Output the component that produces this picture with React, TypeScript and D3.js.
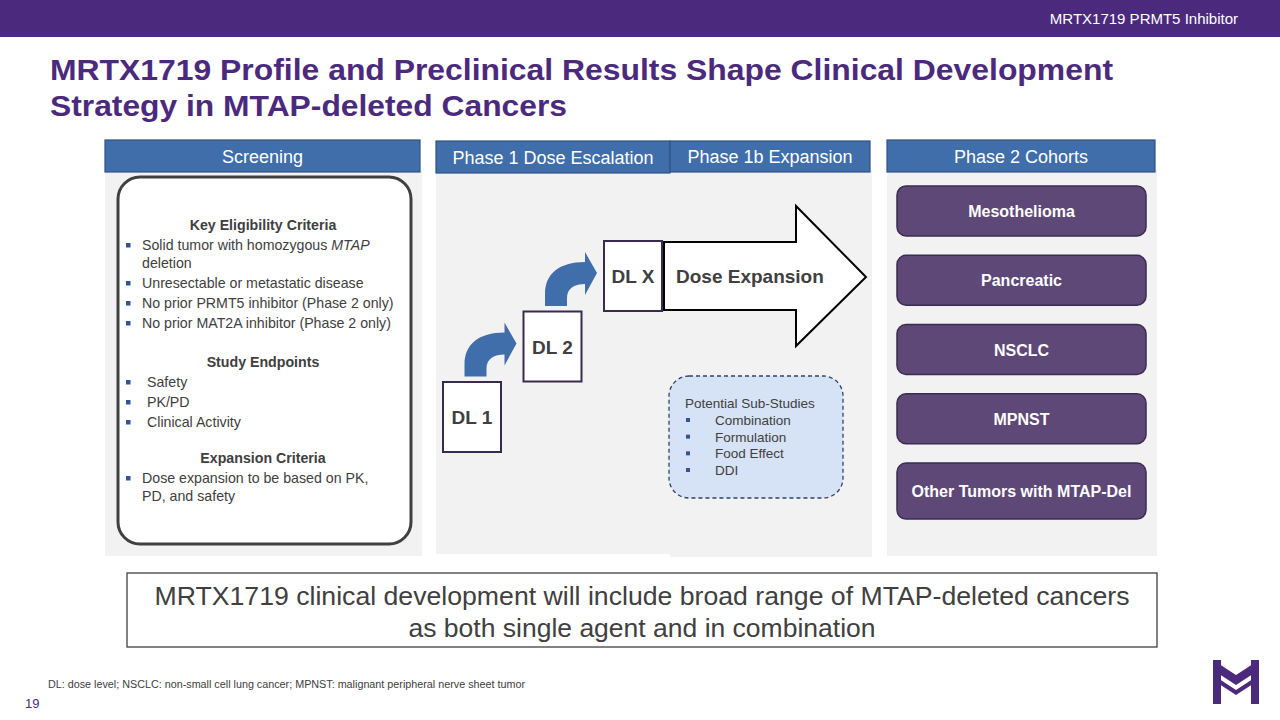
import React from "react";
import * as d3 from "d3";

const headerTag = "MRTX1719 PRMT5 Inhibitor";
const titleLines = [
  "MRTX1719 Profile and Preclinical Results Shape Clinical Development",
  "Strategy in MTAP-deleted Cancers",
];
const phases = ["Screening", "Phase 1 Dose Escalation", "Phase 1b Expansion", "Phase 2 Cohorts"];
const eligibility = [
  [["Solid tumor with homozygous ", false], ["MTAP", true]],
  [["Unresectable or metastatic disease", false]],
  [["No prior PRMT5 inhibitor (Phase 2 only)", false]],
  [["No prior MAT2A inhibitor (Phase 2 only)", false]],
];
const endpoints = ["Safety", "PK/PD", "Clinical Activity"];
const expansionCriteria = ["Dose expansion to be based on PK,", "PD, and safety"];
const doseLevels = ["DL 1", "DL 2", "DL X"];
const expansionLabel = "Dose Expansion";
const subStudiesTitle = "Potential Sub-Studies";
const subStudies = ["Combination", "Formulation", "Food Effect", "DDI"];
const cohorts = ["Mesothelioma", "Pancreatic", "NSCLC", "MPNST", "Other Tumors with MTAP-Del"];
const conclusion = [
  "MRTX1719 clinical development will include broad range of MTAP-deleted cancers",
  "as both single agent and in combination",
];
const footnote = "DL: dose level; NSCLC: non-small cell lung cancer; MPNST: malignant peripheral nerve sheet tumor";
const pageNum = "19";

const PURPLE = "#4B2A7E";
const BLUE = "#3F6EAA";
const GREY = "#F2F2F2";
const DARK = "#404040";
const FONT = "'Liberation Sans', Arial, sans-serif";

function curvedArrow(tipX: number, tipY: number) {
  const x0 = tipX - 52;
  const yb = tipY + 33;
  return `M${x0},${yb} L${x0},${yb - 12} C${x0},${yb - 32} ${x0 + 14},${yb - 44} ${x0 + 40},${yb - 44} L${x0 + 40},${yb - 54} L${x0 + 52},${yb - 33} L${x0 + 40},${yb - 11} L${x0 + 40},${yb - 22} C${x0 + 30},${yb - 22} ${x0 + 22},${yb - 18} ${x0 + 22},${yb - 8} L${x0 + 22},${yb} Z`;
}

export default function App() {
  const dlX = d3.scaleLinear().domain([0, 2]).range([443, 604]);
  const dlY = d3.scaleLinear().domain([0, 2]).range([382, 241]);
  const dlW = 58, dlH = 70;

  const cohortY = d3.scaleBand<string>().domain(cohorts).range([186, 513]).paddingInner(0.28);
  const subY = d3.scaleLinear().domain([0, subStudies.length - 1]).range([420, 470]);

  const lines: { x: number; y: number; text: any; bold?: boolean; center?: boolean; bullet?: boolean }[] = [];
  let y = 225;
  lines.push({ x: 263, y, text: "Key Eligibility Criteria", bold: true, center: true });
  eligibility.forEach((segs, i) => {
    y += 20;
    lines.push({
      x: 142, y, bullet: true,
      text: segs.map((s, j) => (
        <tspan key={j} fontStyle={s[1] ? "italic" : "normal"}>{s[0] as string}</tspan>
      )),
    });
    if (i === 0) {
      y += 18;
      lines.push({ x: 142, y, text: "deletion" });
    }
  });
  y += 39;
  lines.push({ x: 263, y, text: "Study Endpoints", bold: true, center: true });
  endpoints.forEach((e) => {
    y += 20;
    lines.push({ x: 147, y, text: e, bullet: true });
  });
  y += 36;
  lines.push({ x: 263, y, text: "Expansion Criteria", bold: true, center: true });
  expansionCriteria.forEach((e, i) => {
    y += i === 0 ? 20 : 18;
    lines.push({ x: 142, y, text: e, bullet: i === 0 });
  });

  const headers = [
    { x: 105, w: 315, y: 140, h: 32, label: phases[0] },
    { x: 436, w: 234, y: 141, h: 32, label: phases[1] },
    { x: 670, w: 200, y: 141, h: 31, label: phases[2] },
    { x: 887, w: 268, y: 140, h: 32, label: phases[3] },
  ];

  return (
    <svg width={1280} height={720} style={{ position: "absolute", left: 0, top: 0 }} fontFamily={FONT}>
      <rect x={0} y={0} width={1280} height={720} fill="#fff" />
      <rect x={0} y={0} width={1280} height={37} fill={PURPLE} />
      <text x={1238} y={24} fill="#fff" fontSize={15} textAnchor="end">{headerTag}</text>
      {titleLines.map((t, i) => (
        <text key={i} x={50} y={80 + i * 36} fill={PURPLE} fontSize={30} fontWeight="bold"
          textLength={i === 0 ? 1063 : 517} lengthAdjust="spacingAndGlyphs">{t}</text>
      ))}

      <rect x={105} y={170} width={317} height={386} fill={GREY} />
      <rect x={436} y={170} width={234} height={384} fill={GREY} />
      <rect x={670} y={170} width={202} height={387} fill={GREY} />
      <rect x={887} y={170} width={270} height={386} fill={GREY} />
      {headers.map((h, i) => (
        <g key={i}>
          <rect x={h.x} y={h.y} width={h.w} height={h.h} fill={BLUE} stroke="#2F5283" strokeWidth={1.2} />
          <text x={h.x + h.w / 2} y={h.y + h.h / 2 + 6.5} fill="#fff" fontSize={18} textAnchor="middle">{h.label}</text>
        </g>
      ))}

      <rect x={118} y={177} width={293} height={367} rx={22} fill="#fff" stroke={DARK} strokeWidth={3} />
      {lines.map((l, i) => (
        <g key={i}>
          {l.bullet && <rect x={126} y={l.y - 2} width={4.5} height={4.5} fill="#2F5597" />}
          <text x={l.x} y={l.y + 5} fontSize={14.2} fill={DARK} fontWeight={l.bold ? "bold" : "normal"}
            textAnchor={l.center ? "middle" : "start"}>{l.text}</text>
        </g>
      ))}

      {doseLevels.map((d, i) => (
        <g key={d}>
          <rect x={dlX(i)} y={dlY(i)} width={dlW} height={dlH} fill="#fff" stroke="#3A2A4E" strokeWidth={2} />
          <text x={dlX(i) + dlW / 2} y={dlY(i) + dlH / 2 + 7} fontSize={19} fontWeight="bold" fill={DARK} textAnchor="middle">{d}</text>
          {i > 0 && <path d={curvedArrow(dlX(i) - 7, dlY(i) + dlH / 2 - 3)} fill={BLUE} />}
        </g>
      ))}
      <path d={`M664,242 L796,242 L796,206 L866,277 L796,346 L796,310 L664,310 Z`} fill="#fff" stroke="#000" strokeWidth={2} />
      <text x={676} y={283} fontSize={19} fontWeight="bold" fill={DARK}>{expansionLabel}</text>

      <rect x={669} y={376} width={174} height={122} rx={20} fill="#D6E2F5" stroke="#2E4462" strokeWidth={1.3} strokeDasharray="4,3" />
      <text x={685} y={408} fontSize={13.5} fill={DARK}>{subStudiesTitle}</text>
      {subStudies.map((s, i) => (
        <g key={s}>
          <rect x={686} y={subY(i) - 2} width={4} height={4} fill="#2F5597" />
          <text x={715} y={subY(i) + 5} fontSize={13.5} fill={DARK}>{s}</text>
        </g>
      ))}

      {cohorts.map((c, i) => {
        const by = cohortY(c)!;
        const bh = i === cohorts.length - 1 ? 56 : cohortY.bandwidth();
        return (
          <g key={c}>
            <rect x={897} y={by} width={249} height={bh} rx={9} fill="#5E4878" stroke="#3B2B55" strokeWidth={1.5} />
            <text x={1021.5} y={by + bh / 2 + 6} fontSize={16} fontWeight="bold" fill="#fff" textAnchor="middle">{c}</text>
          </g>
        );
      })}

      <rect x={127} y={573} width={1030} height={74} fill="#fff" stroke={DARK} strokeWidth={1.3} />
      {conclusion.map((t, i) => (
        <text key={i} x={642} y={605 + i * 32} fontSize={26} fill={DARK} textAnchor="middle"
          textLength={i === 0 ? 975 : 467} lengthAdjust="spacingAndGlyphs">{t}</text>
      ))}

      <text x={48} y={688} fontSize={10} fill={DARK} textLength={477} lengthAdjust="spacingAndGlyphs">{footnote}</text>
      <text x={25} y={708} fontSize={13} fill={PURPLE}>{pageNum}</text>

      <g fill={PURPLE}>
        <rect x={1213} y={660} width={8} height={44} />
        <rect x={1251} y={660} width={8} height={44} />
        <polygon points="1213,660 1236,675 1259,660 1259,670 1236,685 1213,670" />
        <polygon points="1213,675 1236,690 1259,675 1259,680 1236,695 1213,680" />
      </g>
    </svg>
  );
}
